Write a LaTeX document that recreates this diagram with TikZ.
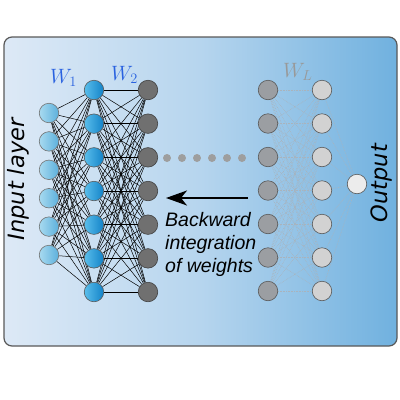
\documentclass[tikz,border=0pt]{standalone}
\usepackage{fontspec}
\newfontfamily\dejavu{DejaVu Sans}
\newfontfamily\libsans{Liberation Sans}
\usetikzlibrary{arrows.meta}
\pgfdeclarelayer{bg}
\pgfdeclarelayer{edges}
\pgfsetlayers{bg,edges,main}
\definecolor{panelL}{HTML}{DDE9F6}
\definecolor{panelM}{HTML}{B6D5EE}
\definecolor{panelR}{HTML}{70B1DF}
\definecolor{wblue}{HTML}{2A62E0}
\definecolor{inpL}{HTML}{A8DAF0}
\definecolor{inpR}{HTML}{5CB0DC}
\definecolor{hidL}{HTML}{5ABEEB}
\definecolor{hidR}{HTML}{1282C8}
\definecolor{faintc}{HTML}{A9B3BC}
\tikzset{
  neuron/.style={circle, minimum size=19.5pt, inner sep=0pt, line width=0.6pt},
  inp/.style={neuron, draw=black!55, left color=inpL, right color=inpR},
  hidA/.style={neuron, draw=black!65, left color=hidL, right color=hidR},
  hidB/.style={neuron, draw=black!75, fill={rgb,255:red,112;green,112;blue,112}},
  hidC/.style={neuron, draw=black!65, fill={rgb,255:red,155;green,158;blue,162}},
  hidD/.style={neuron, draw=black!65, fill={rgb,255:red,210;green,210;blue,210}},
  outn/.style={neuron, draw=black!65, fill={rgb,255:red,236;green,236;blue,236}},
  wire/.style={black, line width=0.5pt},
  faint/.style={faintc, line width=0.6pt, densely dotted},
  sidelabel/.style={font=\dejavu\itshape\fontsize{22.5}{22.5}\selectfont, inner sep=0pt, rotate=90, anchor=base},
  backlabel/.style={font=\libsans\itshape\fontsize{19.5}{22}\selectfont, inner sep=0pt, anchor=base west},
  wlabel/.style={font=\fontsize{22}{22}\selectfont, inner sep=0pt, anchor=base west}
}
\begin{document}
\begin{tikzpicture}[x=1pt,y=-1pt]
\useasboundingbox (0,0) rectangle (400,400);
\begin{pgfonlayer}{bg}
\shade[left color=panelL, right color=panelR, middle color=panelM, rounded corners=8pt]
  (4,37) rectangle (397,346);
\draw[black!65, line width=1.2pt, rounded corners=8pt] (4,37) rectangle (397,346);
\end{pgfonlayer}
% input layer
\foreach \n in {1,...,6} {
  \node[inp] (i\n) at (49,{113+(\n-1)*28.4}) {};
}
% hidden layers
\foreach \n in {1,...,7} {
  \node[hidA] (a\n) at (94,{90+(\n-1)*33.67}) {};
  \node[hidB] (b\n) at (148,{90+(\n-1)*33.67}) {};
  \node[hidC] (c\n) at (268,{90+(\n-1)*33.5}) {};
  \node[hidD] (d\n) at (322,{90+(\n-1)*33.5}) {};
}
\node[outn] (o) at (357,184) {};
\begin{pgfonlayer}{edges}
\foreach \p in {1,...,6} { \foreach \q in {1,...,7} { \draw[wire] (i\p) -- (a\q); } }
\foreach \p in {1,...,7} { \foreach \q in {1,...,7} { \draw[wire] (a\p) -- (b\q); } }
\foreach \p in {1,...,7} { \foreach \q in {1,...,7} { \draw[faint] (c\p) -- (d\q); } }
\foreach \p in {1,...,7} { \draw[faint] (d\p) -- (o); }
\end{pgfonlayer}
% dots
\foreach \k in {0,...,5} {
  \fill[black!38] ({167+\k*15},158) circle (4pt);
}
% arrow
\coordinate (as) at (248,198);
\coordinate (ae) at (166,198);
\draw[line width=2pt, -{Stealth[length=21pt, width=15pt, inset=6pt]}] (as) -- (ae);
% texts
\node[backlabel] (t1) at (165,226) {Backward};
\node[backlabel] (t2) at (165,249) {integration};
\node[backlabel] (t3) at (165,272) {of weights};
\node[sidelabel] (inl) at (24,179.5) {Input layer};
\node[sidelabel] (outl) at (387,183) {Output};
\node[wlabel, text=wblue] (w1) at (50,83) {$W_1$};
\node[wlabel, text=wblue] (w2) at (111,80) {$W_2$};
\node[wlabel, text=black!40] (wl) at (283,77) {$W_L$};
\end{tikzpicture}
\end{document}
